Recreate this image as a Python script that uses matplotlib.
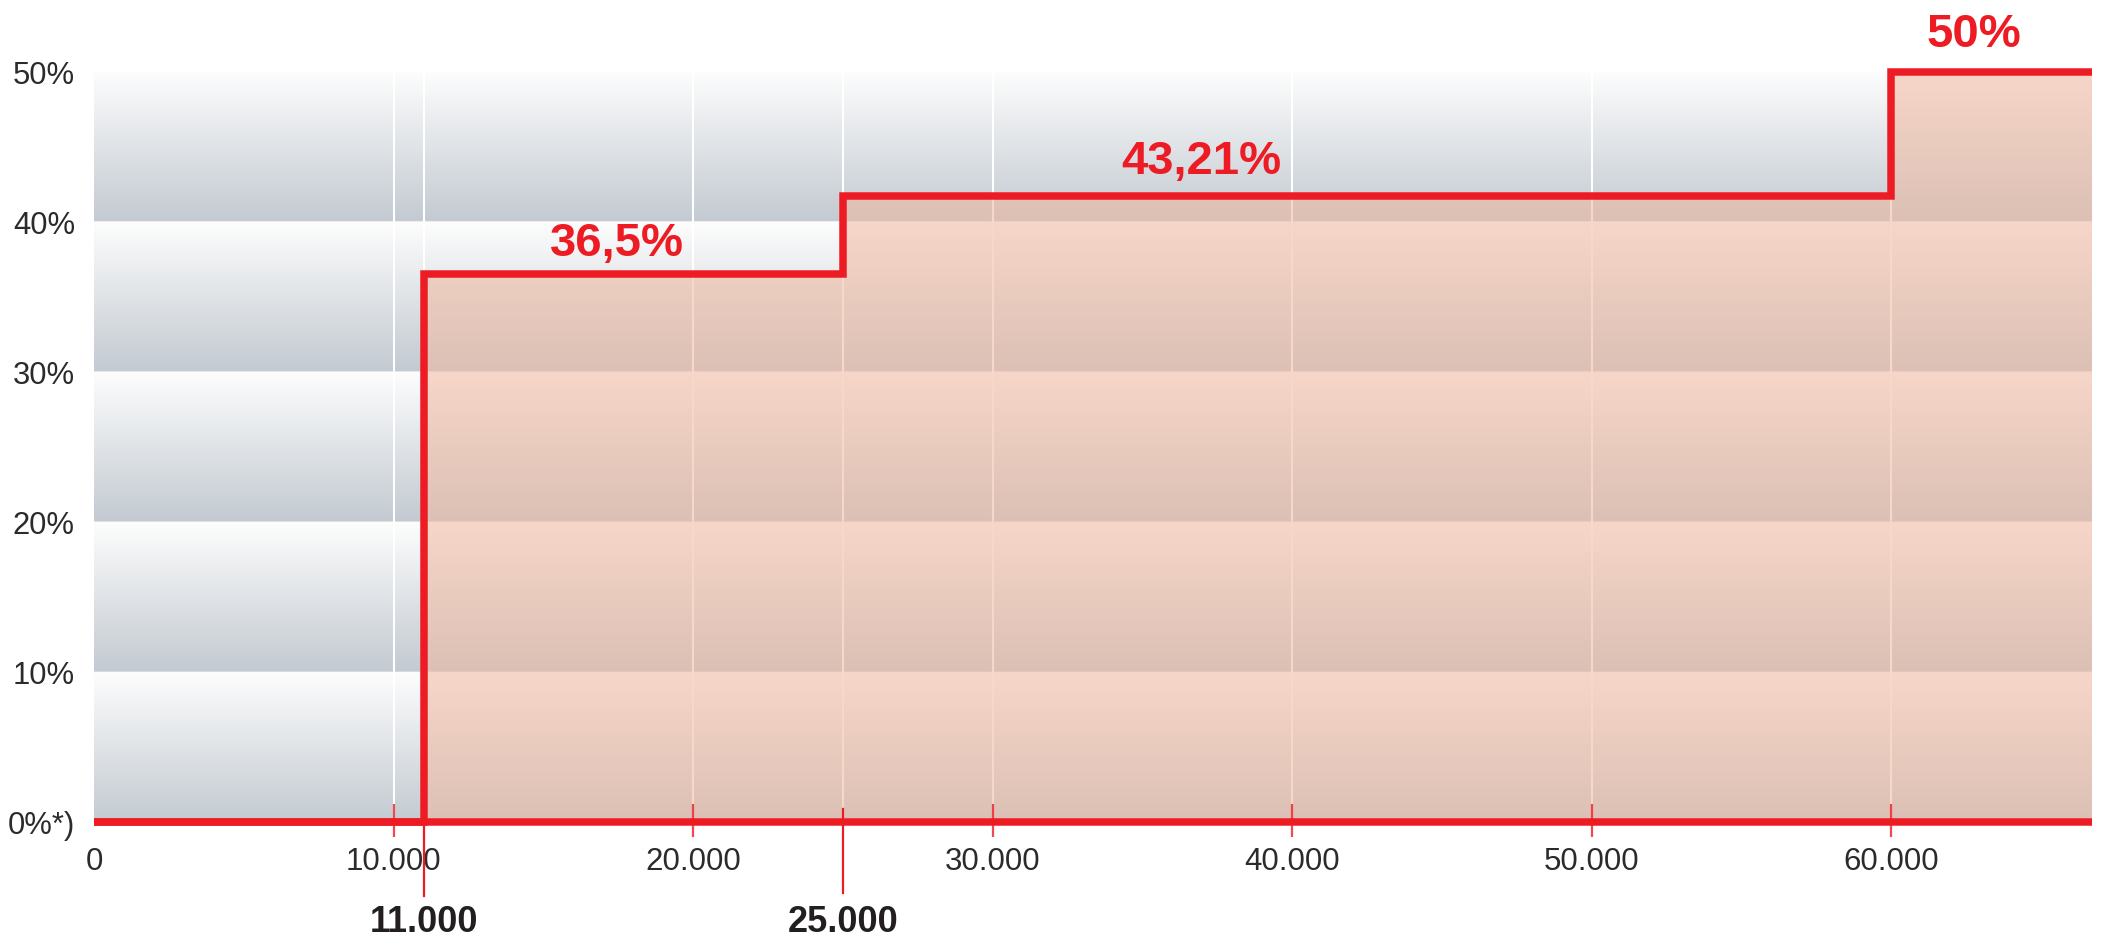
import numpy as np
import matplotlib.pyplot as plt

plt.rcParams['font.family'] = ['Liberation Sans', 'DejaVu Sans']

# step edges (income) and tax rate per step (%)
edges = [0, 11000, 25000, 60000, 66700]
rates = [0, 36.5, 41.7, 50]
rate_labels = ['36,5%', '43,21%', '50%']

thresholds = [11000, 25000]
threshold_labels = ['11.000', '25.000']

xticks = [0, 10000, 20000, 30000, 40000, 50000, 60000]
xtick_labels = ['0', '10.000', '20.000', '30.000', '40.000', '50.000', '60.000']
yticks = [0, 10, 20, 30, 40, 50]
ytick_labels = ['0%*)', '10%', '20%', '30%', '40%', '50%']
grid_x = [10000, 11000, 20000, 25000, 30000, 40000, 50000, 60000]

red = '#ed1c24'
text_dark = '#2b2b2b'
xmax = edges[-1]

fig = plt.figure(figsize=(21.03, 9.38), dpi=100)
ax = fig.add_axes([94 / 2103, 116 / 938, (2092 - 94) / 2103, 750 / 938])

# gray gradient bands, one per 10%
top = np.array([253, 253, 253]) / 255
bottom = np.array([195, 202, 209]) / 255
rows = []
for band in range(len(yticks) - 1):
    for i in range(100):
        t = i / 99
        rows.append(top + t * (bottom - top))
bg = np.array(rows)[:, None, :]
ax.imshow(bg, extent=[0, xmax, 0, 50], aspect='auto', origin='upper',
          interpolation='bilinear', zorder=0)

ax.vlines(grid_x, 0, 50, colors='white', lw=1.5, zorder=1)

# filled area under the steps
ax.fill_between(edges, rates + [rates[-1]], step='post', color='#f1b9a0',
                alpha=0.57, lw=0, zorder=2)

# small tick marks
ax.vlines(xticks[1:], -1.0, 1.2, colors=red, lw=1.6, alpha=0.8, zorder=3,
          clip_on=False)

# baseline and step line
ax.plot([0, xmax], [0, 0], color=red, lw=5.4, zorder=4,
        solid_capstyle='butt', clip_on=False)
ax.step(edges, rates + [rates[-1]], where='post', color=red, lw=5.4,
        zorder=5, clip_on=False, solid_joinstyle='miter',
        solid_capstyle='butt')

# threshold markers below the axis
ax.plot([thresholds[0], thresholds[0]], [0, -4.93], color=red, lw=1.6,
        clip_on=False, zorder=4)
ax.plot([thresholds[1], thresholds[1]], [0.87, -4.73], color=red, lw=1.6,
        clip_on=False, zorder=4)
for xv, lab in zip(thresholds, threshold_labels):
    ax.text(xv, -7.35, lab, ha='center', va='baseline', fontsize=26,
            fontweight='bold', color='#231f20', clip_on=False)

# rate labels
label_x = [17450, 36970, 62760]
label_y = [37.75, 43.2, 51.65]
for xv, yv, lab in zip(label_x, label_y, rate_labels):
    ax.text(xv, yv, lab, ha='center', va='baseline', fontsize=34,
            fontweight='bold', color=red, clip_on=False)

ax.set_xlim(0, xmax)
ax.set_ylim(0, 50)
ax.set_xticks(xticks, xtick_labels)
ax.set_yticks(yticks, ytick_labels)
ax.tick_params(axis='x', length=0, pad=18, labelsize=22.5, labelcolor=text_dark)
ax.tick_params(axis='y', length=0, pad=13.7, labelsize=22.3, labelcolor=text_dark)
for s in ax.spines.values():
    s.set_visible(False)

fig.savefig('out.png', dpi=100)
